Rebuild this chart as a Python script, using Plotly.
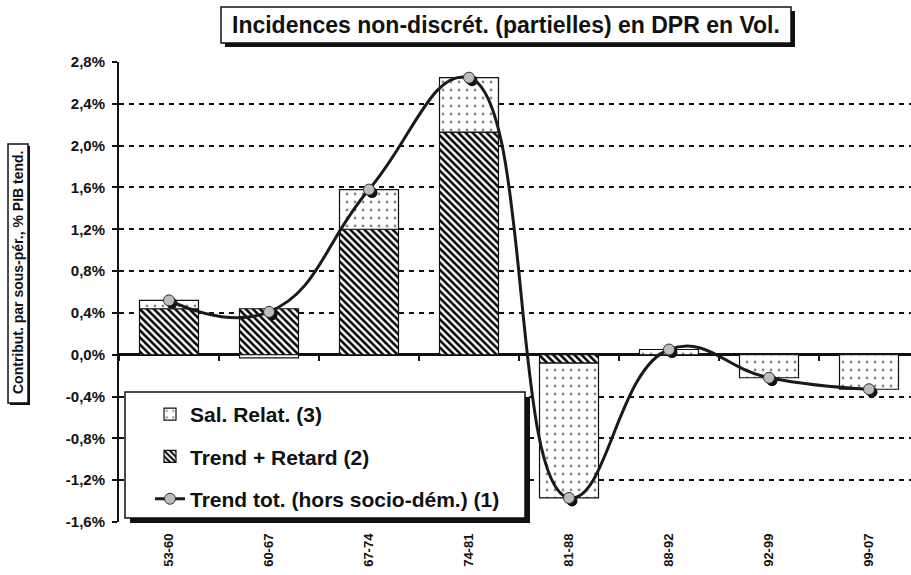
import plotly.graph_objects as go

# sous-périodes et contributions (% du PIB tendanciel)
periodes = ["53-60", "60-67", "67-74", "74-81", "81-88", "88-92", "92-99", "99-07"]
trend_retard = [0.44, 0.44, 1.20, 2.13, -0.08, 0.00, 0.00, 0.00]
sal_relat = [0.08, -0.03, 0.38, 0.52, -1.29, 0.05, -0.22, -0.33]
trend_tot = [0.52, 0.41, 1.58, 2.65, -1.37, 0.05, -0.22, -0.33]

y_tick_vals = [-1.6, -1.2, -0.8, -0.4, 0.0, 0.4, 0.8, 1.2, 1.6, 2.0, 2.4, 2.8]
y_tick_text = ["-1,6%", "-1,2%", "-0,8%", "-0,4%", "0,0%", "0,4%", "0,8%", "1,2%",
               "1,6%", "2,0%", "2,4%", "2,8%"]

W, H = 911, 575
L, R, T, B = 119, 911, 62, 522
Y_MIN, Y_MAX = -1.6, 2.8
X_RANGE = [-0.5, 7.42]
FONT = "Liberation Sans, Arial, sans-serif"


def px_x(x):
    return (x - L) / (R - L)


def px_y(y):
    return (B - y) / (B - T)


def boxed(x0, y0, x1, y1, shadow):
    # white box with a black drop shadow (paper coords from pixels)
    return [
        dict(type="rect", xref="paper", yref="paper", layer="above",
             x0=px_x(x0 + shadow), x1=px_x(x1 + shadow), y0=px_y(y0 + shadow), y1=px_y(y1 + shadow),
             fillcolor="#111111", line=dict(width=0)),
        dict(type="rect", xref="paper", yref="paper", layer="above",
             x0=px_x(x0), x1=px_x(x1), y0=px_y(y0), y1=px_y(y1),
             fillcolor="white", line=dict(color="#111111", width=1.5)),
    ]


fig = go.Figure()

fig.add_trace(go.Bar(
    x=periodes, y=trend_retard, name="Trend + Retard (2)", width=0.59,
    legendgroup="g2", legendrank=2,
    marker=dict(color="white", line=dict(color="#111111", width=1.2),
                pattern=dict(shape="\\", fgcolor="black", bgcolor="white", size=5, solidity=0.5,
                             fillmode="replace")),
))
fig.add_trace(go.Bar(
    x=periodes, y=sal_relat, name="Sal. Relat. (3)", width=0.59,
    legendgroup="g3", legendrank=1,
    marker=dict(color="white", line=dict(color="#111111", width=1.2),
                pattern=dict(shape=".", fgcolor="#111111", bgcolor="white", size=8, solidity=0.1)),
))

# ombre des marqueurs (axes décalés de quelques pixels)
fig.add_trace(go.Scatter(
    x=periodes, y=trend_tot, mode="markers", xaxis="x2", yaxis="y2", showlegend=False,
    marker=dict(size=11, color="#111111"), hoverinfo="skip",
))
fig.add_trace(go.Scatter(
    x=periodes, y=trend_tot, mode="lines+markers", xaxis="x3", yaxis="y3",
    name="Trend tot. (hors socio-dém.) (1)", legendgroup="g1", legendrank=3,
    line=dict(shape="spline", smoothing=1.3, color="#1a1a1a", width=3),
    marker=dict(size=11, color="#bdbdbd", line=dict(color="#333333", width=1)),
))

shift_x = 3 / 100.0
shift_y = 3 / (B - T) * (Y_MAX - Y_MIN)
zero_pos = (0 - Y_MIN) / (Y_MAX - Y_MIN)

shapes = boxed(125, 392, 525, 518, 5) + boxed(221, 7, 791, 43, 4) + boxed(8, 144, 28, 403, 2)

fig.update_layout(
    width=W, height=H,
    margin=dict(l=L, r=W - R, t=T, b=H - B),
    paper_bgcolor="white", plot_bgcolor="white",
    font=dict(family=FONT, color="#111111", weight="bold"),
    barmode="relative",
    showlegend=True,
    legend=dict(x=px_x(150), y=px_y(394), xanchor="left", yanchor="top",
                bgcolor="rgba(0,0,0,0)", borderwidth=0, tracegroupgap=12,
                font=dict(size=21, family=FONT, weight="bold", color="#111111")),
    xaxis=dict(type="category", range=X_RANGE, showgrid=False, zeroline=False, showline=False,
               ticks="", tickangle=-90, ticklabelstandoff=8,
               tickfont=dict(size=13, family=FONT, weight="bold")),
    yaxis=dict(range=[Y_MIN, Y_MAX], tickvals=y_tick_vals, ticktext=y_tick_text,
               showgrid=True, gridcolor="#111111", griddash="5px,5px", gridwidth=1.8,
               zeroline=True, zerolinecolor="#111111", zerolinewidth=2.5,
               showline=True, linecolor="#111111", linewidth=2,
               ticks="outside", ticklen=5, tickwidth=1.5, tickcolor="#111111",
               ticklabelstandoff=4, tickfont=dict(size=15, family=FONT, weight="bold")),
    xaxis2=dict(type="category", overlaying="x", anchor="y2",
                range=[X_RANGE[0] - shift_x, X_RANGE[1] - shift_x], visible=False),
    yaxis2=dict(overlaying="y", anchor="x2",
                range=[Y_MIN + shift_y, Y_MAX + shift_y], visible=False),
    xaxis3=dict(type="category", overlaying="x", anchor="free", position=zero_pos,
                range=X_RANGE, ticks="outside", tickson="boundaries", ticklen=5, tickwidth=2,
                tickcolor="#111111", showticklabels=False, showgrid=False, showline=False,
                zeroline=False),
    yaxis3=dict(overlaying="y", anchor="x3", range=[Y_MIN, Y_MAX], visible=False),
    shapes=shapes,
    annotations=[
        dict(text="Incidences non-discrét. (partielles) en DPR en Vol.", xref="paper", yref="paper",
             x=px_x(506), y=px_y(25), xanchor="center", yanchor="middle", showarrow=False,
             font=dict(size=23, family=FONT, weight="bold", color="#111111")),
        dict(text="Contribut. par sous-pér., % PIB tend.", xref="paper", yref="paper",
             x=px_x(18), y=px_y(273), xanchor="center", yanchor="middle", showarrow=False,
             textangle=-90, font=dict(size=14, family=FONT, weight="bold", color="#111111")),
    ],
)

# page without the default body margin so the chart sits at the window origin
fig.write_html("out.html", config={"displayModeBar": False},
               post_script="document.body.style.margin='0';")
